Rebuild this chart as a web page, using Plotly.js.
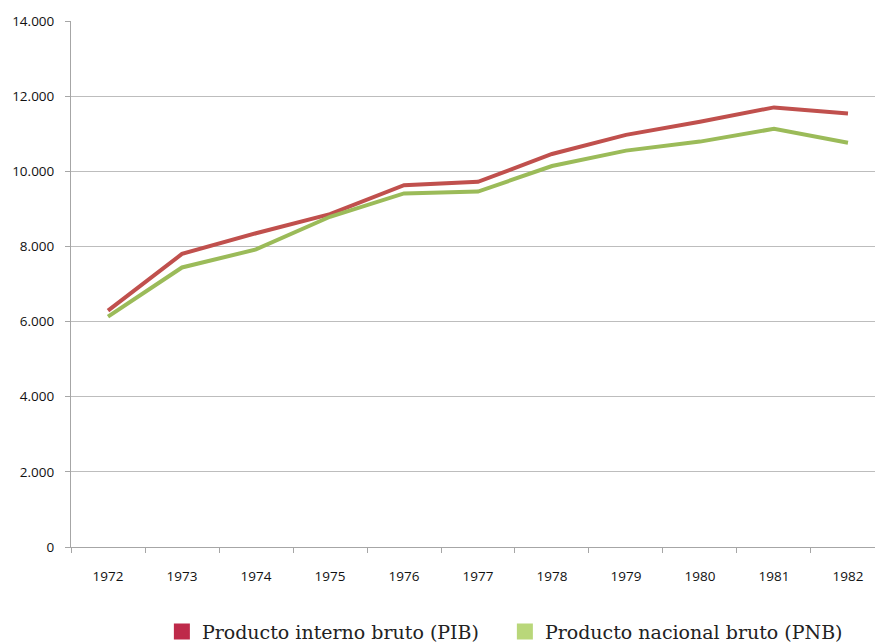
<!DOCTYPE html>
<html>
<head>
<meta charset="utf-8">
<script src="https://cdn.plot.ly/plotly-3.0.1.min.js"></script>
<style>html,body{margin:0;padding:0;background:#fff;overflow:hidden}#chart{width:875px;height:644px}</style>
</head>
<body>
<div id="chart"></div>
<script>
const years = ['1972','1973','1974','1975','1976','1977','1978','1979','1980','1981','1982'];
const pib = [6290, 7800, 8350, 8860, 9630, 9720, 10460, 10970, 11320, 11700, 11540];
const pnb = [6130, 7440, 7920, 8790, 9410, 9460, 10140, 10550, 10790, 11130, 10760];
const yTickVals = [0, 2000, 4000, 6000, 8000, 10000, 12000, 14000];
const yTickText = ['0', '2.000', '4.000', '6.000', '8.000', '10.000', '12.000', '14.000'];
const seriesNames = ['Producto interno bruto (PIB)', 'Producto nacional bruto (PNB)'];

const traces = [
  {x: years, y: pib, type: 'scatter', mode: 'lines', line: {color: '#C0504D', width: 4}, showlegend: false, hoverinfo: 'skip'},
  {x: years, y: pnb, type: 'scatter', mode: 'lines', line: {color: '#9BBB59', width: 4}, showlegend: false, hoverinfo: 'skip'},
  {x: [null], y: [null], type: 'scatter', mode: 'markers', name: seriesNames[0], marker: {symbol: 'square', size: 18, color: '#BE2A4A'}},
  {x: [null], y: [null], type: 'scatter', mode: 'markers', name: seriesNames[1], marker: {symbol: 'square', size: 18, color: '#B9D77A'}}
];

const layout = {
  width: 875, height: 644,
  margin: {l: 71, r: 0, t: 21, b: 97},
  paper_bgcolor: '#fff', plot_bgcolor: '#fff',
  font: {family: '"Open Sans", Roboto, sans-serif', size: 13, color: '#111'},
  xaxis: {
    type: 'category', categoryorder: 'array', categoryarray: years,
    range: [-0.5, 10.365],
    showgrid: false, zeroline: false,
    showline: true, linecolor: '#A6A6A6', linewidth: 1,
    ticks: 'outside', tickson: 'boundaries', ticklen: 5, tickcolor: '#A6A6A6',
    ticklabelstandoff: 17,
    tickfont: {size: 13.5, color: '#111'}
  },
  yaxis: {
    range: [0, 14000],
    tickvals: yTickVals, ticktext: yTickText,
    showgrid: true, gridcolor: '#BDBDBD', gridwidth: 1,
    zeroline: false,
    showline: true, linecolor: '#A6A6A6', linewidth: 1,
    ticks: 'outside', ticklen: 5, tickcolor: '#A6A6A6',
    ticklabelstandoff: 8,
    tickfont: {size: 13.5, color: '#111'}
  },
  showlegend: true,
  legend: {
    orientation: 'h', xref: 'container', yref: 'container',
    x: 0.185, xanchor: 'left', y: 0.019, yanchor: 'middle',
    font: {family: '"DejaVu Serif", "Liberation Serif", serif', size: 19, color: '#222'},
    itemclick: false, itemdoubleclick: false,
    tracegroupgap: 0, itemwidth: 30,
    entrywidth: 298, entrywidthmode: 'pixels'
  }
};

Plotly.newPlot('chart', traces, layout, {displayModeBar: false, staticPlot: true});
</script>
</body>
</html>
